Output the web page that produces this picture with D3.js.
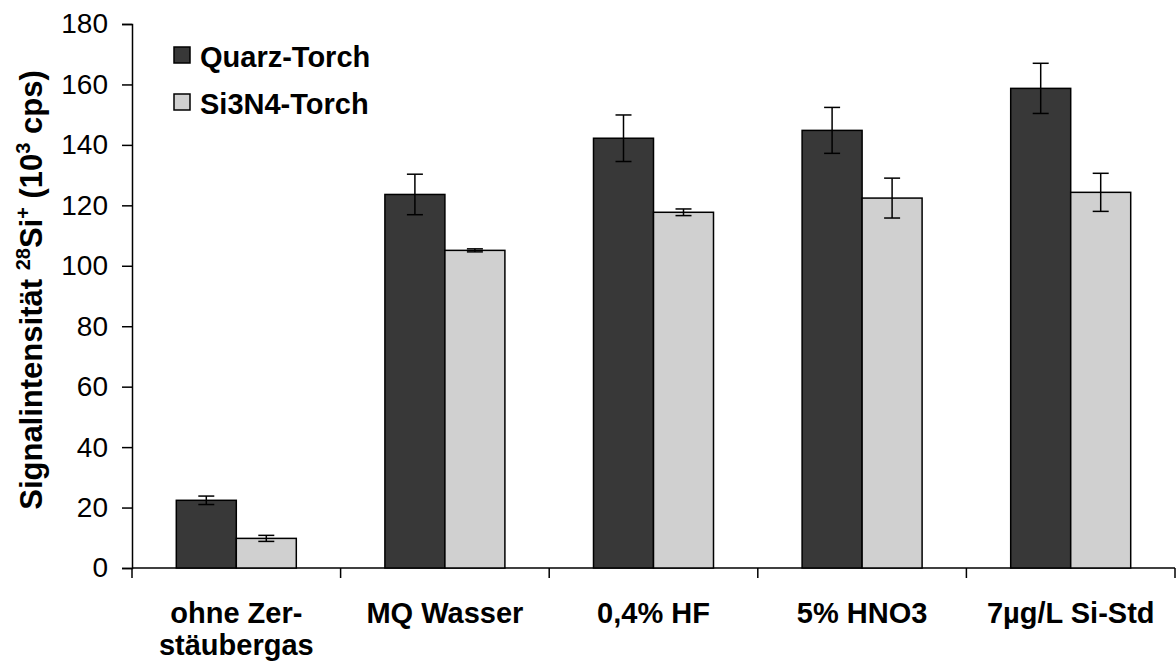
<!DOCTYPE html>
<html>
<head>
<meta charset="utf-8">
<script src="https://cdn.jsdelivr.net/npm/d3@7"></script>
<style>
  body { margin: 0; background: #fff; }
  svg text { font-family: "Liberation Sans", Arial, sans-serif; }
</style>
</head>
<body>
<svg id="chart"></svg>
<script>
// Data
const categories = [['ohne Zer-', 'stäubergas'], ['MQ Wasser'], ['0,4% HF'], ['5% HNO3'], ['7µg/L Si-Std']];
const seriesNames = ['Quarz-Torch', 'Si3N4-Torch'];
const quarzValues = [22.4, 123.6, 142.2, 144.8, 158.7];
const quarzErrors = [1.4, 6.7, 7.7, 7.6, 8.3];
const si3n4Values = [9.8, 105.1, 117.7, 122.4, 124.3];
const si3n4Errors = [1.0, 0.5, 1.1, 6.6, 6.3];
const yTicks = [0, 20, 40, 60, 80, 100, 120, 140, 160, 180];
const colors = ['#383838', '#d0d0d0'];

const width = 1176;
const height = 666;
const margin = { top: 24, right: 1, bottom: 98, left: 132 };

const svg = d3.select('#chart')
    .attr('width', width)
    .attr('height', height);

const xScale = d3.scaleBand()
    .domain(d3.range(categories.length))
    .range([margin.left, width - margin.right])
    .paddingInner(0)
    .paddingOuter(0);

const yScale = d3.scaleLinear()
    .domain([0, 180])
    .range([height - margin.bottom, margin.top]);

// inner band for the two bars
const barWidth = 60;
const xSub = d3.scaleBand()
    .domain([0, 1])
    .range([xScale.bandwidth() / 2 - barWidth, xScale.bandwidth() / 2 + barWidth]);

// y axis
const yAxis = d3.axisLeft(yScale).tickValues(yTicks).tickSize(10).tickPadding(14);
const gy = svg.append('g')
    .attr('transform', `translate(${margin.left}, 0)`)
    .call(yAxis);
gy.select('.domain').attr('stroke', '#000').attr('stroke-width', 1.5);
gy.selectAll('.tick line').attr('stroke', '#000').attr('stroke-width', 1.5);
gy.selectAll('.tick text')
    .attr('font-size', '28px')
    .attr('fill', '#000')
    .attr('font-family', '"Liberation Sans", Arial, sans-serif');

// x axis line and separators between categories
const x0 = height - margin.bottom;
svg.append('line')
    .attr('x1', margin.left).attr('x2', width - margin.right)
    .attr('y1', x0).attr('y2', x0)
    .attr('stroke', '#000').attr('stroke-width', 1.5);

d3.range(categories.length + 1).forEach(i => {
    const xx = i < categories.length ? xScale(i) : xScale(i - 1) + xScale.bandwidth();
    svg.append('line')
        .attr('x1', xx).attr('x2', xx)
        .attr('y1', x0).attr('y2', x0 + 10)
        .attr('stroke', '#000').attr('stroke-width', 1.5);
});

// bars
const allValues = [quarzValues, si3n4Values];
const allErrors = [quarzErrors, si3n4Errors];

allValues.forEach((vals, s) => {
    const g = svg.append('g');
    g.selectAll('rect')
        .data(vals)
        .join('rect')
        .attr('x', (d, i) => xScale(i) + xSub(s))
        .attr('y', d => yScale(d))
        .attr('width', xSub.bandwidth())
        .attr('height', d => yScale(0) - yScale(d))
        .attr('fill', colors[s])
        .attr('stroke', '#000')
        .attr('stroke-width', 1.5);
});

// error bars
allValues.forEach((vals, s) => {
    vals.forEach((v, i) => {
        const cx = xScale(i) + xSub(s) + xSub.bandwidth() / 2;
        const e = allErrors[s][i];
        const g = svg.append('g').attr('stroke', '#000').attr('stroke-width', 1.5);
        g.append('line').attr('x1', cx).attr('x2', cx)
            .attr('y1', yScale(v + e)).attr('y2', yScale(v - e));
        [v + e, v - e].forEach(yv => {
            g.append('line').attr('x1', cx - 8).attr('x2', cx + 8)
                .attr('y1', yScale(yv)).attr('y2', yScale(yv));
        });
    });
});

// category labels
categories.forEach((lines, i) => {
    const t = svg.append('text')
        .attr('x', xScale(i) + xScale.bandwidth() / 2)
        .attr('y', 623)
        .attr('text-anchor', 'middle')
        .attr('font-size', '29px')
        .attr('font-weight', 'bold');
    lines.forEach((ln, k) => {
        t.append('tspan')
            .attr('x', xScale(i) + xScale.bandwidth() / 2)
            .attr('dy', k === 0 ? 0 : 32)
            .text(ln);
    });
});

// y axis label
const yLabel = svg.append('text')
    .attr('transform', 'rotate(-90)')
    .attr('x', -290)
    .attr('y', 42)
    .attr('text-anchor', 'middle')
    .attr('font-size', '31px')
    .attr('font-weight', 'bold');
yLabel.append('tspan').text('Signalintensität ');
yLabel.append('tspan').attr('font-size', '20px').attr('dy', -12).text('28');
yLabel.append('tspan').attr('dy', 12).text('Si');
yLabel.append('tspan').attr('font-size', '20px').attr('dy', -12).text('+');
yLabel.append('tspan').attr('dy', 12).text(' (10');
yLabel.append('tspan').attr('font-size', '20px').attr('dy', -12).text('3');
yLabel.append('tspan').attr('dy', 12).text(' cps)');

// legend
seriesNames.forEach((name, s) => {
    const ly = 47 + s * 47;
    svg.append('rect')
        .attr('x', 174).attr('y', ly)
        .attr('width', 16).attr('height', 16)
        .attr('fill', colors[s])
        .attr('stroke', '#000')
        .attr('stroke-width', 1.5);
    svg.append('text')
        .attr('x', 200).attr('y', ly + 20)
        .attr('font-size', '29px')
        .attr('font-weight', 'bold')
        .text(name);
});
</script>
</body>
</html>
